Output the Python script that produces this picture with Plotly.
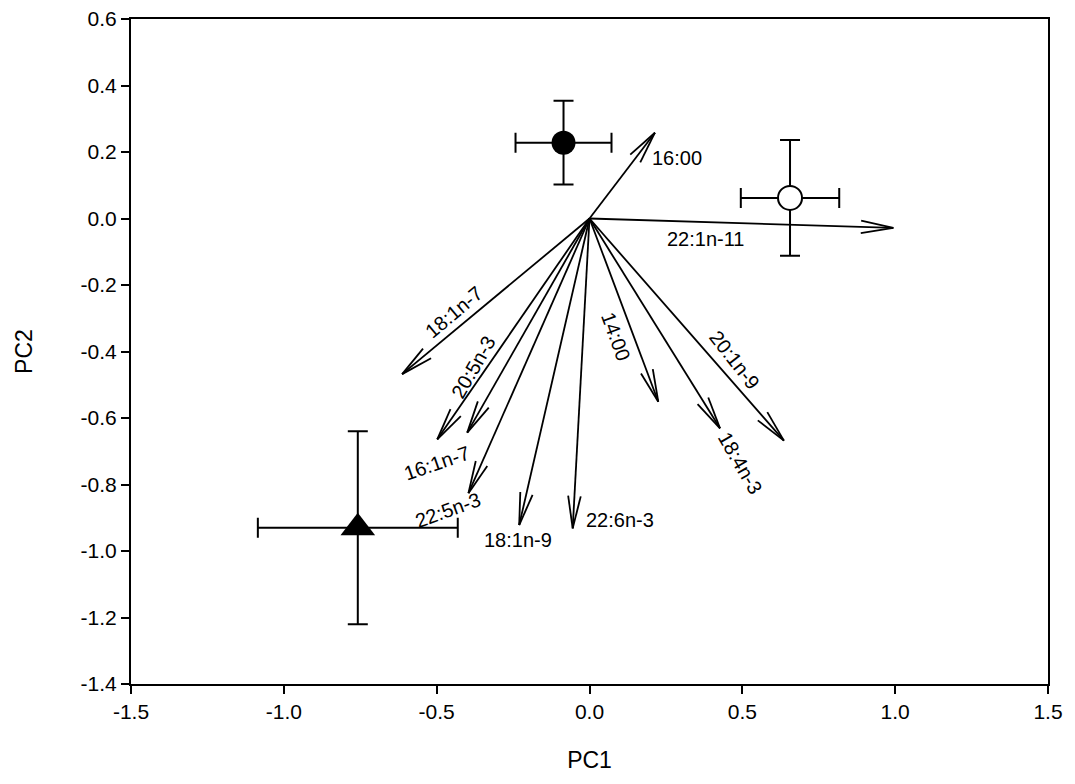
import numpy as np
import plotly.graph_objects as go

# ---- data ----
group_names = ["Filled circle", "Open circle", "Triangle"]
group_pc1 = [-0.085, 0.656, -0.758]
group_pc2 = [0.228, 0.062, -0.930]
group_pc1_err = [0.157, 0.161, 0.327]
group_pc2_err = [0.126, 0.174, 0.290]

vec_names = ["16:00", "22:1n-11", "18:1n-7", "20:5n-3", "16:1n-7", "22:5n-3",
             "18:1n-9", "22:6n-3", "14:00", "20:1n-9", "18:4n-3"]
vec_pc1 = [0.214, 0.994, -0.613, -0.400, -0.498, -0.396, -0.230, -0.055, 0.225, 0.636, 0.427]
vec_pc2 = [0.258, -0.028, -0.468, -0.644, -0.664, -0.826, -0.922, -0.932, -0.551, -0.668, -0.631]

x_tickvals = [-1.5, -1.0, -0.5, 0.0, 0.5, 1.0, 1.5]
x_ticktext = ["-1.5", "-1.0", "-0.5", "0.0", "0.5", "1.0", "1.5"]
y_tickvals = [0.6, 0.4, 0.2, 0.0, -0.2, -0.4, -0.6, -0.8, -1.0, -1.2, -1.4]
y_ticktext = ["0.6", "0.4", "0.2", "0.0", "-0.2", "-0.4", "-0.6", "-0.8", "-1.0", "-1.2", "-1.4"]

# ---- layout geometry (styles) ----
PAGE_OFF = 8  # default body margin of the html page
W, H = 1075 - PAGE_OFF, 784 - PAGE_OFF
ML, MR, MT, MB = 131 - PAGE_OFF, 27, 19 - PAGE_OFF, 100
XR = [-1.5, 1.5]
YR = [-1.4, 0.6]
sx = (W - ML - MR) / (XR[1] - XR[0])
sy = (H - MT - MB) / (YR[1] - YR[0])
FONT = "Liberation Sans, Arial, sans-serif"

# label placement: pixel offsets from arrow tip (dx right, dy down) and text angle
label_style = {
    "16:00": (22, 25, 0),
    "22:1n-11": (-188, 11, 0),
    "18:1n-7": (52, -62, -40),
    "20:5n-3": (6, -66, -60),
    "16:1n-7": (0, 24, -19),
    "22:5n-3": (-20, 17, -20),
    "18:1n-9": (-1, 15, 0),
    "22:6n-3": (47, -8, 0),
    "14:00": (-42, -65, 70),
    "20:1n-9": (-49, -81, 52),
    "18:4n-3": (20, 35, 60),
}

fig = go.Figure()

# arrow shafts
sx_list, sy_list = [], []
for x, y in zip(vec_pc1, vec_pc2):
    sx_list += [0, x, None]
    sy_list += [0, y, None]
fig.add_trace(go.Scatter(x=sx_list, y=sy_list, mode="lines",
                         line=dict(color="black", width=1.8), hoverinfo="skip", showlegend=False))

# open arrowheads (computed in pixel space)
L, theta = 33, np.deg2rad(11)
hx, hy = [], []
for x, y in zip(vec_pc1, vec_pc2):
    px, py = x * sx, y * sy
    n = np.hypot(px, py)
    ux, uy = px / n, py / n
    for s in (1, -1):
        c, si = np.cos(s * theta), np.sin(s * theta)
        bx = ux * c - uy * si
        by = ux * si + uy * c
        hx += [x - L * bx / sx, x, None]
        hy += [y - L * by / sy, y, None]
fig.add_trace(go.Scatter(x=hx, y=hy, mode="lines",
                         line=dict(color="black", width=1.8), hoverinfo="skip", showlegend=False))

# group points with error bars
symbols = ["circle", "circle", "triangle-up"]
fills = ["black", "white", "black"]
sizes = [24, 24, 30]
for i in range(3):
    fig.add_trace(go.Scatter(
        x=[group_pc1[i]], y=[group_pc2[i]], mode="markers", name=group_names[i],
        marker=dict(symbol=symbols[i], color=fills[i], size=sizes[i],
                    line=dict(color="black", width=2 if i == 1 else 0)),
        error_x=dict(type="data", array=[group_pc1_err[i]], color="black", thickness=2, width=10),
        error_y=dict(type="data", array=[group_pc2_err[i]], color="black", thickness=2, width=10),
        showlegend=False))

# labels
for name, x, y in zip(vec_names, vec_pc1, vec_pc2):
    dx, dy, ang = label_style[name]
    fig.add_annotation(x=x, y=y, text=name, showarrow=False, xshift=dx, yshift=-dy,
                       textangle=ang, font=dict(family=FONT, size=20, color="black"))

axis_common = dict(showgrid=False, zeroline=False, showline=True, linecolor="black", linewidth=2,
                   mirror=True, ticks="outside", ticklen=8, tickwidth=1.5, tickcolor="black",
                   automargin=False, ticklabeloverflow="allow",
                   tickfont=dict(family=FONT, size=21, color="black"))
fig.update_xaxes(range=XR, tickvals=x_tickvals, ticktext=x_ticktext,
                 title=dict(text="PC1", font=dict(family=FONT, size=23, color="black"), standoff=30),
                 **axis_common)
fig.update_yaxes(range=YR, tickvals=y_tickvals, ticktext=y_ticktext,
                 title=dict(text="PC2", font=dict(family=FONT, size=23, color="black"), standoff=42),
                 **axis_common)
fig.update_layout(width=W, height=H, margin=dict(l=ML, r=MR, t=MT, b=MB),
                  plot_bgcolor="white", paper_bgcolor="white")

fig.write_html("out.html")
